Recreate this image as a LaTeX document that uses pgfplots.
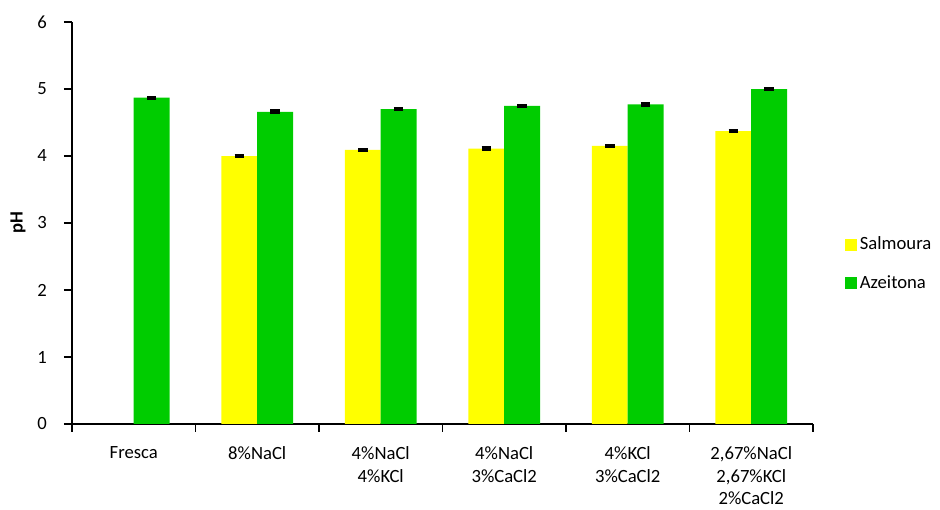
\documentclass[border=0pt]{standalone}
\usepackage{fontspec}
\setmainfont{Carlito}
\usepackage{pgfplots}
\pgfplotsset{compat=1.18}
\definecolor{myyellow}{HTML}{FFFF00}
\definecolor{mygreen}{HTML}{00CC00}
\begin{document}
\fontsize{14}{17}\selectfont
\begin{tikzpicture}
\useasboundingbox (-54pt,-64.5pt) rectangle (651pt,318pt);
\begin{axis}[
  at={(0,0)}, anchor=south west,
  scale only axis, width=555.75pt, height=301.5pt,
  ybar=0pt, bar width=0.29,
  xmin=-0.5, xmax=5.5, ymin=0, ymax=6,
  axis x line=bottom, axis y line=left,
  axis line style={-, line width=0.8pt, black},
  /pgf/number format/assume math mode=true,
  ytick={0,1,2,3,4,5,6},
  ylabel={\bfseries pH},
  ylabel style={at={(axis description cs:-0.0729,0.5)}, anchor=center},
  tick align=outside,
  major tick length=6pt,
  every tick/.style={line width=0.8pt, black},
  y tick style={draw=black, line width=0.8pt},
  xtick={-0.5,0.5,1.5,2.5,3.5,4.5,5.5},
  xticklabels={},
  extra x ticks={0,1,2,3,4,5},
  extra x tick labels={Fresca, 8\%NaCl, {4\%NaCl\\4\%KCl}, {4\%NaCl\\3\%CaCl2}, {4\%KCl\\3\%CaCl2}, {2,67\%NaCl\\2,67\%KCl\\2\%CaCl2}},
  extra x tick style={major tick length=0pt, xticklabel style={align=center, anchor=north, yshift=-12pt}},
  yticklabel style={anchor=east, xshift=-8pt},
  legend image code/.code={\fill[#1] (0pt,-4.5pt) rectangle (9pt,4.5pt);},
  legend style={draw=none, fill=none, inner sep=0pt, row sep=13pt,
    at={(1,0.398)}, anchor=west, xshift=24pt, legend cell align=left,
    font=\fontsize{14}{17}\selectfont},
  error bars/error bar style={line width=1.2pt, black},
  error bars/error mark options={rotate=90, mark size=3.5pt, line width=2.2pt, black},
]
\addplot[fill=myyellow, draw=none, error bars/.cd, y dir=both, y explicit]
  coordinates {(1,4.00) +- (0,0.01) (2,4.09) +- (0,0.01) (3,4.11) +- (0,0.01) (4,4.15) +- (0,0.01) (5,4.37) +- (0,0.01)};
\addplot[fill=mygreen, draw=none, error bars/.cd, y dir=both, y explicit]
  coordinates {(0,4.87) +- (0,0.01) (1,4.66) +- (0,0.015) (2,4.70) +- (0,0.01) (3,4.75) +- (0,0.01) (4,4.77) +- (0,0.01) (5,5.00) +- (0,0.015)};
\legend{Salmoura, Azeitona}
\end{axis}
\end{tikzpicture}
\end{document}
